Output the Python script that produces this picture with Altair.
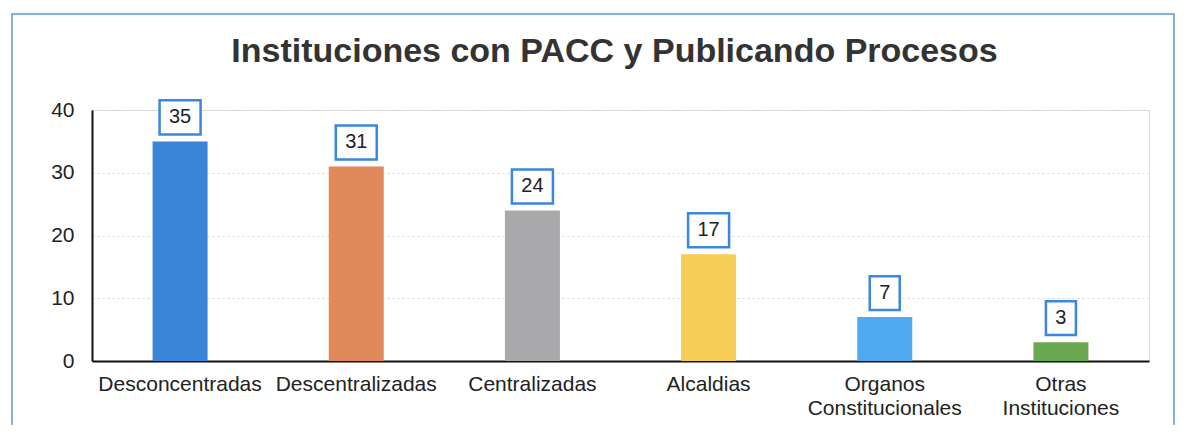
import altair as alt
import pandas as pd

categorias = ["Desconcentradas", "Descentralizadas", "Centralizadas", "Alcaldias",
              "Organos Constitucionales", "Otras Instituciones"]
valores = [35, 31, 24, 17, 7, 3]
colores = ["#3a84da", "#e08a5c", "#a9a9ab", "#f6cd55", "#4ea9ee", "#6aa952"]
y_ticks = [0, 10, 20, 30, 40]

df = pd.DataFrame({"categoria": categorias, "valor": valores})

FONT = "Liberation Sans"
PATH2 = "M-1,-0.83L1,-0.83L1,0.83L-1,0.83Z"
PATH1 = "M-1,-1.13L1,-1.13L1,1.13L-1,1.13Z"

x_enc = alt.X("categoria:N", sort=categorias,
              scale=alt.Scale(paddingInner=0, paddingOuter=0),
              axis=alt.Axis(title=None, labelFont=FONT, labelFontSize=21, labelColor="#222",
                            labelAngle=0, labelPadding=12, labelOverlap=False, labelLimit=0,
                            labelLineHeight=24, ticks=False, tickSize=0,
                            domainColor="#111", domainWidth=2, grid=False,
                            labelExpr="indexof(datum.label, ' ') > 0 ? split(datum.label, ' ') : datum.label"))
y_enc = alt.Y("valor:Q", scale=alt.Scale(domain=[0, 40], nice=False),
              axis=alt.Axis(title=None, values=y_ticks, labelFont=FONT, labelFontSize=21,
                            labelColor="#222", labelPadding=18, ticks=False, tickSize=0,
                            domainColor="#111", domainWidth=2, grid=True,
                            gridColor="#d4d4d4", gridDash=[2, 3], gridWidth=1))

base = alt.Chart(df)

bars = base.mark_bar(width=55).encode(
    x=x_enc, y=y_enc,
    color=alt.Color("categoria:N", scale=alt.Scale(domain=categorias, range=colores), legend=None),
)

boxes = base.transform_calculate(
    shp=f"datum.valor >= 10 ? '{PATH2}' : '{PATH1}'",
    sz="datum.valor >= 10 ? 1681 : 900",
).mark_point(filled=False, fill="white", fillOpacity=1, stroke="#3a86e0",
             strokeWidth=2.5, opacity=1, yOffset=-24).encode(
    x=alt.X("categoria:N", sort=categorias),
    y=alt.Y("valor:Q"),
    shape=alt.Shape("shp:N", scale=None),
    size=alt.Size("sz:Q", scale=None),
)

labels = base.mark_text(font=FONT, fontSize=20, color="#222", baseline="middle",
                        align="center", yOffset=-24).encode(
    x=alt.X("categoria:N", sort=categorias),
    y=alt.Y("valor:Q"),
    text=alt.Text("valor:Q"),
)

frame = alt.Chart(alt.Data(values=[{}])).mark_rect(
    fillOpacity=0, stroke="#5b9bd5", strokeWidth=1.5
).encode(x=alt.value(-80), x2=alt.value(1082), y=alt.value(-96), y2=alt.value(400))

chart = alt.layer(frame, bars, boxes, labels).properties(
    width=1057, height=251,
    title=alt.TitleParams("Instituciones con PACC y Publicando Procesos", font=FONT,
                          fontSize=34, fontWeight="bold", color="#333", anchor="middle",
                          baseline="alphabetic", offset=-83, dx=-6),
    autosize=alt.AutoSizeParams(type="none"),
    padding={"left": 84, "top": 102, "right": 27, "bottom": 64},
).configure_view(stroke=None).configure(background="white")

chart.save("out.html", embed_options={"renderer": "svg", "actions": False})
